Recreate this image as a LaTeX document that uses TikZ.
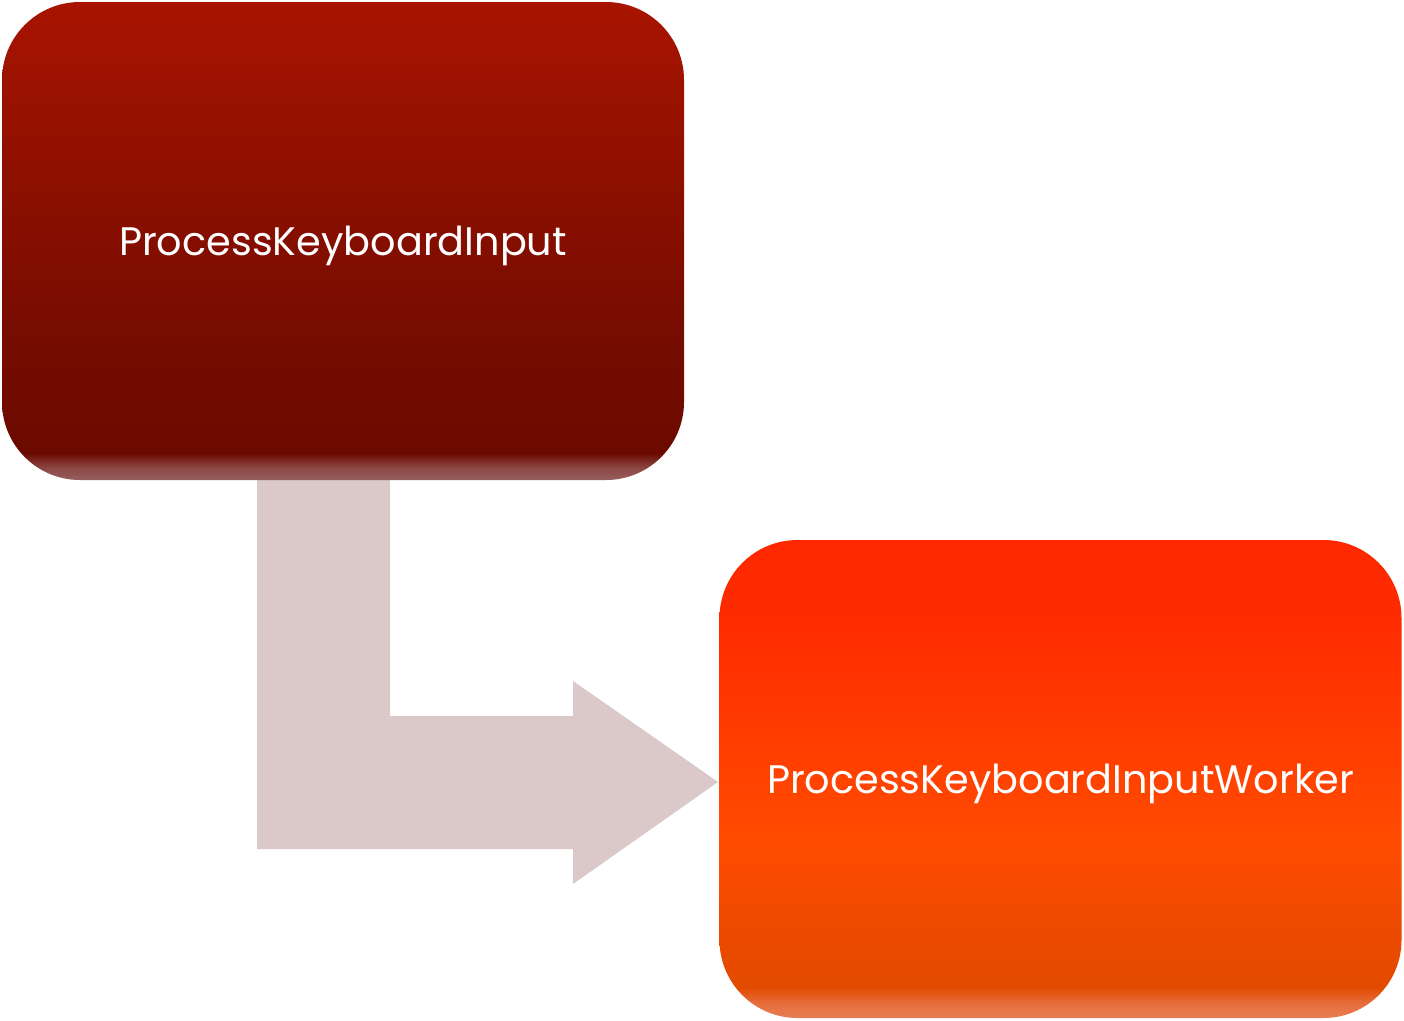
\documentclass[tikz,border=0pt]{standalone}
\usepackage{fontspec}
\setmainfont{Poppins}
\definecolor{arrowfill}{HTML}{DBC8C8}
\pgfdeclareverticalshading{darkbox}{100bp}{
  color(0bp)=(rgb,255:red,150;green,95;blue,95);
  color(25bp)=(rgb,255:red,150;green,95;blue,95);
  color(26.3bp)=(rgb,255:red,140;green,70;blue,68);
  color(27.8bp)=(rgb,255:red,108;green,10;blue,0);
  color(40bp)=(rgb,255:red,118;green,12;blue,0);
  color(75bp)=(rgb,255:red,168;green,20;blue,0);
  color(100bp)=(rgb,255:red,168;green,20;blue,0)}
\pgfdeclareverticalshading{lightbox}{100bp}{
  color(0bp)=(rgb,255:red,232;green,125;blue,85);
  color(25bp)=(rgb,255:red,232;green,125;blue,85);
  color(26.5bp)=(rgb,255:red,230;green,110;blue,60);
  color(28.2bp)=(rgb,255:red,226;green,74;blue,0);
  color(36bp)=(rgb,255:red,240;green,74;blue,0);
  color(43bp)=(rgb,255:red,255;green,76;blue,0);
  color(66bp)=(rgb,255:red,255;green,44;blue,0);
  color(75bp)=(rgb,255:red,255;green,40;blue,0);
  color(100bp)=(rgb,255:red,255;green,40;blue,0)}
\tikzset{
  procbox/.style={rounded corners=78pt, minimum width=682pt, minimum height=478pt,
    inner sep=0pt, text=white, font=\fontsize{39.8}{46}\selectfont,
    text height=28pt, text depth=0pt},
  bentarrow/.style={fill=arrowfill, draw=none}
}
\begin{document}
\begin{tikzpicture}[x=1pt,y=-1pt]
\useasboundingbox (0,0) rectangle (1404,1020);
\fill[white] (0,0) rectangle (1404,1020);
\coordinate (a1) at (257,480);
\coordinate (a2) at (390,480);
\coordinate (tip) at (718,782);
\fill[bentarrow] (a1) -- (a2) -- (390,716) -- (573,716) -- (573,681) -- (tip) -- (573,884) -- (573,849) -- (257,849) -- cycle;
\node[procbox, shading=darkbox] (pki) at (343,241) {ProcessKeyboardInput};
\node[procbox, shading=lightbox] (pkiw) at (1060.5,779) {ProcessKeyboardInputWorker};
\end{tikzpicture}
\end{document}
